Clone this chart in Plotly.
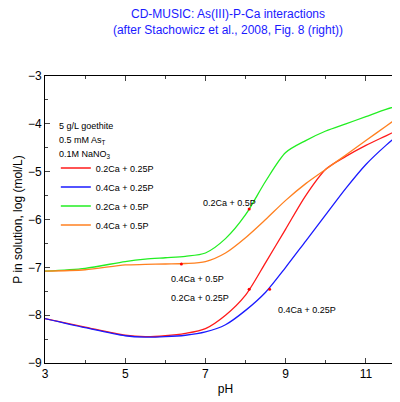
import plotly.graph_objects as go

ph = [3, 4, 5, 5.5, 6, 6.5, 7, 7.5, 8, 8.5, 9, 9.5, 10, 10.5, 11, 11.5, 12]
red = [-8.07, -8.25, -8.42, -8.45, -8.43, -8.38, -8.28, -8.0, -7.58, -6.9, -6.2, -5.5, -4.95, -4.68, -4.45, -4.25, -4.05]
blue = [-8.07, -8.26, -8.43, -8.46, -8.45, -8.42, -8.35, -8.2, -7.9, -7.52, -7.0, -6.45, -5.9, -5.35, -4.85, -4.45, -4.1]
green = [-7.08, -7.02, -6.88, -6.83, -6.8, -6.77, -6.7, -6.4, -5.9, -5.2, -4.6, -4.35, -4.15, -4.0, -3.85, -3.7, -3.57]
orange = [-7.08, -7.05, -6.95, -6.94, -6.93, -6.92, -6.88, -6.7, -6.38, -6.0, -5.6, -5.25, -4.95, -4.65, -4.35, -4.05, -3.75]
names = ["0.2Ca + 0.25P", "0.4Ca + 0.25P", "0.2Ca + 0.5P", "0.4Ca + 0.5P"]
colors = ["#ff1a1a", "#1a1aff", "#22ee22", "#ff8020"]
dots_x = [8.09, 8.6, 8.09, 6.4]
dots_y = [-7.46, -7.46, -5.78, -6.93]

fig = go.Figure()
for ys, n, c in zip([red, blue, green, orange], names, colors):
    fig.add_trace(go.Scatter(x=ph, y=ys, mode="lines", name=n,
                             line=dict(color=c, width=1.3, shape="spline", smoothing=0.8)))
fig.add_trace(go.Scatter(x=dots_x, y=dots_y, mode="markers", marker=dict(color="red", size=3), showlegend=False))

lbl = dict(showarrow=False, font=dict(size=9, color="black"), xanchor="left")
fig.add_annotation(x=6.9, y=-5.65, text=names[2], **lbl)
fig.add_annotation(x=6.1, y=-7.25, text=names[3], **lbl)
fig.add_annotation(x=6.1, y=-7.65, text=names[0], **lbl)
fig.add_annotation(x=8.75, y=-7.9, text=names[1], **lbl)
fig.add_annotation(x=3.3, y=-4.05, text="5 g/L goethite", **lbl)
fig.add_annotation(x=3.3, y=-4.35, text="0.5 mM As<sub>T</sub>", **lbl)
fig.add_annotation(x=3.3, y=-4.65, text="0.1M NaNO<sub>3</sub>", **lbl)

ax = dict(showline=True, mirror="allticks", linecolor="black", linewidth=1, ticks="inside", ticklen=5,
          showgrid=False, zeroline=False, tickfont=dict(size=12, color="black"))
fig.update_layout(
    width=400, height=402, plot_bgcolor="white", paper_bgcolor="white",
    font=dict(family="Liberation Sans, Arial", color="black"),
    margin=dict(l=37, r=2, t=68, b=47),
    title=dict(text="CD-MUSIC: As(III)-P-Ca interactions<br>(after Stachowicz et al., 2008, Fig. 8 (right))",
               x=0.55, xanchor="center", yref="container", y=0.975, yanchor="top",
               font=dict(size=12, color="#1a1aff")),
    xaxis=dict(range=[3, 12], tickvals=[3, 5, 7, 9, 11], minor=dict(ticks="inside", ticklen=3, dtick=1, tick0=3),
               title=dict(text="pH", font=dict(size=12), standoff=4), **ax),
    yaxis=dict(range=[-9, -3], dtick=1, minor=dict(ticks="inside", ticklen=3, dtick=0.5),
               title=dict(text="P in solution, log (mol/L)", font=dict(size=12), standoff=2), **ax),
    legend=dict(x=0.03, y=0.73, xanchor="left", yanchor="top", bgcolor="rgba(0,0,0,0)",
                font=dict(size=9), itemwidth=30, tracegroupgap=0),
)
fig.write_html("out.html")
